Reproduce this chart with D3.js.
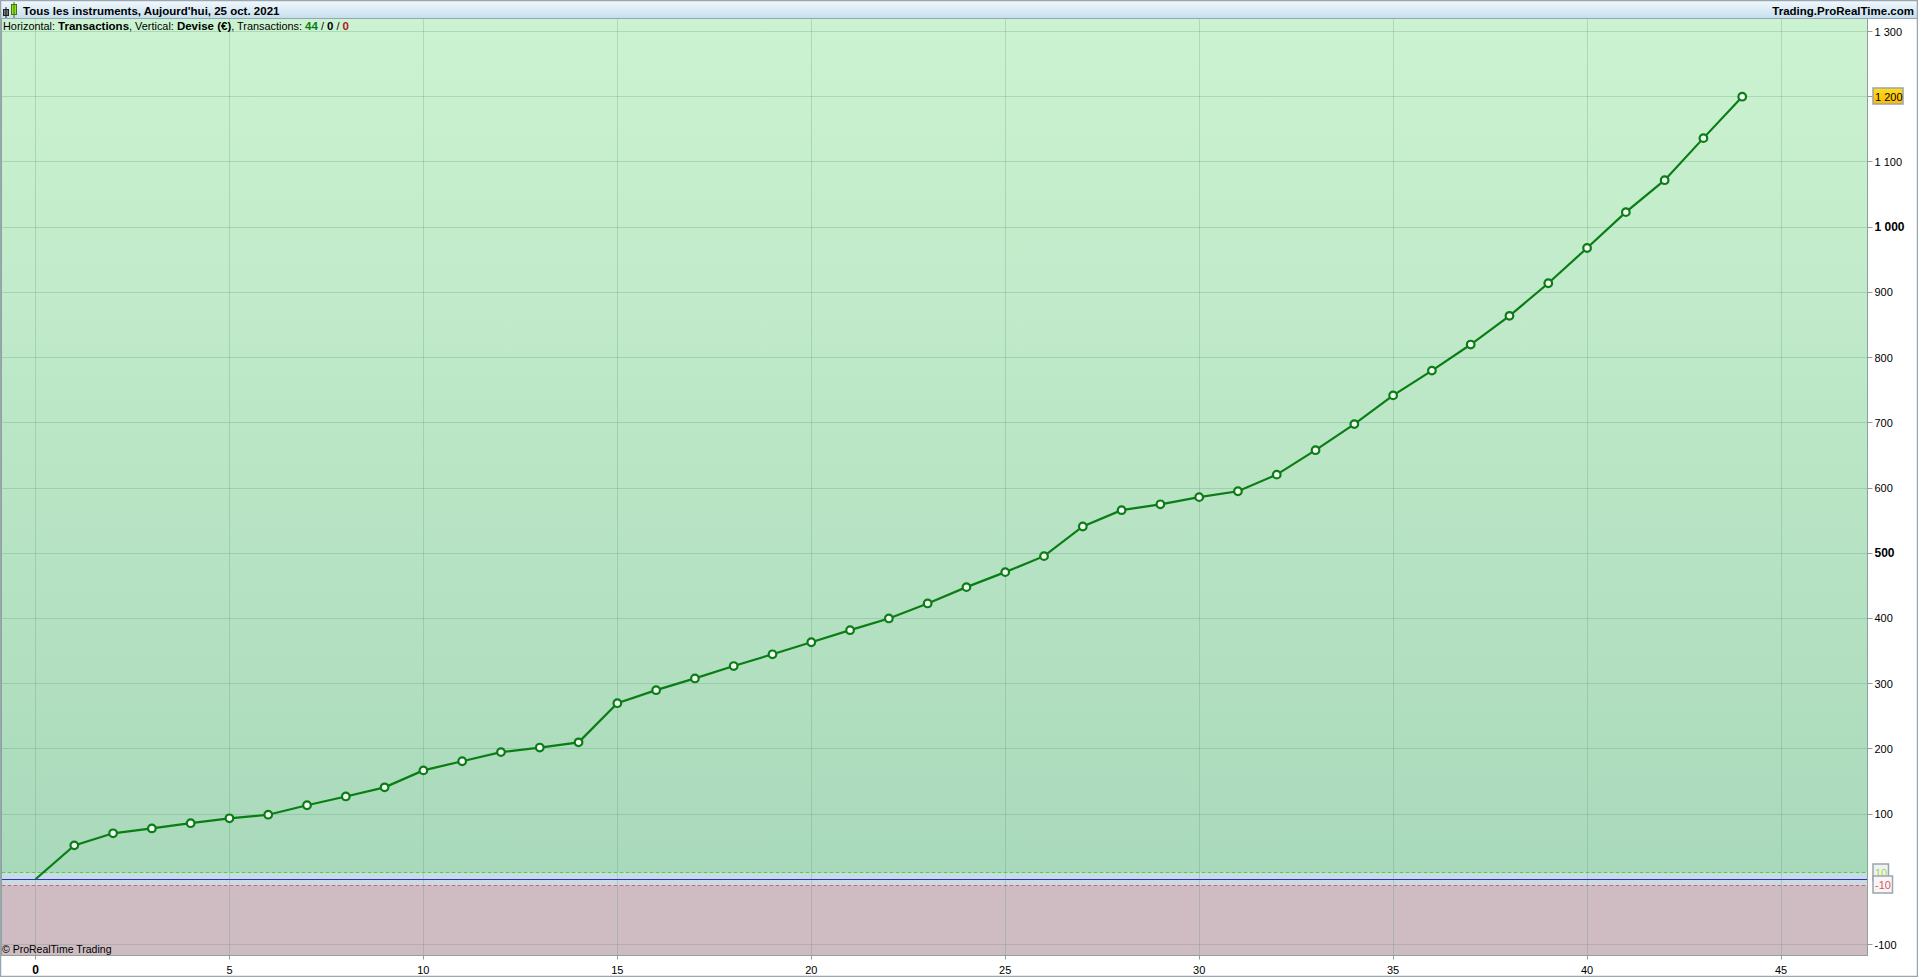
<!DOCTYPE html>
<html>
<head>
<meta charset="utf-8">
<script src="https://cdn.jsdelivr.net/npm/d3@7"></script>
<style>
  html, body { margin: 0; padding: 0; background: #fff; overflow: hidden; }
  text { font-family: "Liberation Sans", Arial, sans-serif; font-size: 11px; fill: #000; }
</style>
</head>
<body>
<div id="chart"></div>
<script>
const equity = [0, 52, 70.5, 78, 86, 93.5, 99, 113.5, 127, 141, 167, 181, 195, 202, 210,
  270, 290, 308, 327, 345, 363.5, 382, 400, 423, 448, 471, 495.5, 541, 566, 575, 586,
  595, 620.5, 658, 698, 742, 780, 820, 864, 914, 968, 1023, 1072, 1136.5, 1200];
const xTicks = [0, 5, 10, 15, 20, 25, 30, 35, 40, 45];
const yTicks = [-100, 100, 200, 300, 400, 500, 600, 700, 800, 900, 1000, 1100, 1200, 1300];
const boldTicks = [500, 1000];
const zeroBand = [-10, 10];
const lastValue = 1200;

const W = 1918, H = 977;
const plot = { left: 1.5, right: 1867.5, top: 18.5, bottom: 955.5 };

const x = d3.scaleLinear().domain([0, 45]).range([35.5, 1781]);
const y = d3.scaleLinear().domain([-100, 1300]).range([944.5, 31.5]);
const fmt = v => String(v).replace(/\B(?=(\d{3})+$)/g, " ");
const snap = v => Math.floor(v) + 0.5;

const svg = d3.select("#chart").append("svg")
  .attr("width", W).attr("height", H).style("display", "block");
const defs = svg.append("defs");

const bg = defs.append("linearGradient").attr("id", "bg")
  .attr("x1", 0).attr("y1", 0).attr("x2", 0).attr("y2", 1);
bg.append("stop").attr("offset", "0%").attr("stop-color", "#ccf3d1");
bg.append("stop").attr("offset", "100%").attr("stop-color", "#a9d9bb");

const head = defs.append("linearGradient").attr("id", "head")
  .attr("x1", 0).attr("y1", 0).attr("x2", 0).attr("y2", 1);
head.append("stop").attr("offset", "0%").attr("stop-color", "#f3f9fd");
head.append("stop").attr("offset", "100%").attr("stop-color", "#c4deee");

const gold = defs.append("linearGradient").attr("id", "gold")
  .attr("x1", 0).attr("y1", 0).attr("x2", 0).attr("y2", 1);
gold.append("stop").attr("offset", "0%").attr("stop-color", "#ffdc1e");
gold.append("stop").attr("offset", "100%").attr("stop-color", "#fdbb00");

// Plot background: green above +10, blue band, red below -10
svg.append("rect").attr("x", plot.left).attr("y", plot.top)
  .attr("width", plot.right - plot.left).attr("height", y(zeroBand[1]) - plot.top)
  .attr("fill", "url(#bg)");
svg.append("rect").attr("x", plot.left).attr("y", y(zeroBand[1]))
  .attr("width", plot.right - plot.left).attr("height", y(zeroBand[0]) - y(zeroBand[1]))
  .attr("fill", "#c9dbe4");
svg.append("rect").attr("x", plot.left).attr("y", y(zeroBand[0]))
  .attr("width", plot.right - plot.left).attr("height", plot.bottom - y(zeroBand[0]))
  .attr("fill", "#cfbbc2");

// Grid
const grid = svg.append("g").attr("stroke", "#4f8f68").attr("stroke-opacity", 0.25).attr("stroke-width", 1);
grid.selectAll(".gx").data(xTicks).enter().append("line")
  .attr("x1", d => snap(x(d))).attr("x2", d => snap(x(d)))
  .attr("y1", plot.top).attr("y2", plot.bottom);
grid.selectAll(".gy").data(yTicks).enter().append("line")
  .attr("x1", plot.left).attr("x2", plot.right)
  .attr("y1", d => snap(y(d))).attr("y2", d => snap(y(d)));

// Reference lines at 0 and +/-10
svg.append("line").attr("x1", plot.left).attr("x2", plot.right)
  .attr("y1", snap(y(0))).attr("y2", snap(y(0)))
  .attr("stroke", "#2a2fc0").attr("stroke-width", 1);
svg.append("line").attr("x1", plot.left).attr("x2", plot.right)
  .attr("y1", snap(y(10))).attr("y2", snap(y(10)))
  .attr("stroke", "#4fd24f").attr("stroke-dasharray", "4,2");
svg.append("line").attr("x1", plot.left).attr("x2", plot.right)
  .attr("y1", snap(y(-10))).attr("y2", snap(y(-10)))
  .attr("stroke", "#d9626a").attr("stroke-dasharray", "4,2");

// Equity line and markers
svg.append("path").datum(equity)
  .attr("fill", "none").attr("stroke", "#0a7d14").attr("stroke-width", 2.2)
  .attr("d", d3.line().x((d, i) => x(i)).y(d => y(d)));
svg.selectAll(".pt").data(equity.slice(1)).enter().append("circle")
  .attr("cx", (d, i) => x(i + 1)).attr("cy", d => y(d)).attr("r", 3.8)
  .attr("fill", "#f4f8f5").attr("stroke", "#0a7d14").attr("stroke-width", 2.2);

// Plot frame
svg.append("rect").attr("x", plot.left).attr("y", plot.top)
  .attr("width", plot.right - plot.left).attr("height", plot.bottom - plot.top)
  .attr("fill", "none").attr("stroke", "#8ca39a");

// Y axis labels
const yAxis = svg.append("g");
yAxis.selectAll("line").data(yTicks).enter().append("line")
  .attr("x1", plot.right).attr("x2", plot.right + 5)
  .attr("y1", d => snap(y(d))).attr("y2", d => snap(y(d)))
  .attr("stroke", "#8f9ca3");
yAxis.selectAll("text").data(yTicks.filter(d => d !== lastValue)).enter().append("text")
  .attr("x", 1874.5).attr("y", d => y(d) + 4)
  .style("font-weight", d => boldTicks.includes(d) ? "bold" : "normal")
  .style("font-size", d => boldTicks.includes(d) ? "12px" : "11px")
  .text(fmt);

// X axis labels
const xAxis = svg.append("g");
xAxis.selectAll("line").data(xTicks).enter().append("line")
  .attr("x1", d => snap(x(d))).attr("x2", d => snap(x(d)))
  .attr("y1", plot.bottom).attr("y2", plot.bottom + 4)
  .attr("stroke", "#8f9ca3");
xAxis.selectAll("text").data(xTicks).enter().append("text")
  .attr("x", d => x(d)).attr("y", 973.5).attr("text-anchor", "middle")
  .style("font-weight", d => d === 0 ? "bold" : "normal")
  .style("font-size", d => d === 0 ? "12px" : "11px")
  .text(d => d);

// Value tags on the right scale
function tag(label, width, height, fill, color, value, up) {
  const top = Math.round(y(value) - up);
  svg.append("rect").attr("x", 1873).attr("y", top)
    .attr("width", width).attr("height", height)
    .attr("fill", fill).attr("stroke", "#9aa5ad").attr("stroke-width", 1.5);
  svg.append("text").attr("x", 1875).attr("y", top + 12.5)
    .style("fill", color).text(label);
}
tag(fmt(lastValue), 30, 16, "url(#gold)", "#000", lastValue, 9);
tag("10", 15.5, 16, "#eef3f2", "#a3d843", 10, 9);
tag("-10", 19.5, 17, "#f7f5f5", "#e0555f", -10, 9.5);

// Title bar
svg.append("rect").attr("x", 0.5).attr("y", 0.5).attr("width", W - 1).attr("height", 18)
  .attr("fill", "url(#head)").attr("stroke", "#97a6b0");
// Candle icon
svg.append("rect").attr("x", 3.5).attr("y", 9.5).attr("width", 5).attr("height", 6).attr("fill", "#777").attr("stroke", "#222");
svg.append("line").attr("x1", 6).attr("x2", 6).attr("y1", 7).attr("y2", 18).attr("stroke", "#222");
svg.append("rect").attr("x", 11.5).attr("y", 4.5).attr("width", 5).attr("height", 10).attr("fill", "#9be020").attr("stroke", "#3c7a10");
svg.append("line").attr("x1", 14).attr("x2", 14).attr("y1", 2).attr("y2", 18).attr("stroke", "#3c7a10");
svg.append("text").attr("x", 23).attr("y", 14.5).style("font-weight", "bold").style("font-size", "11.5px")
  .text("Tous les instruments, Aujourd'hui, 25 oct. 2021");
svg.append("text").attr("x", 1914).attr("y", 14.5).attr("text-anchor", "end").style("font-weight", "bold").style("font-size", "11.5px")
  .text("Trading.ProRealTime.com");

// Info line
const info = svg.append("text").attr("x", 3).attr("y", 30).style("font-size", "10.9px");
[["Horizontal: "], ["Transactions", "bold"], [", Vertical: "], ["Devise (€)", "bold"],
 [", Transactions: "], ["44", "bold", "#0a7d14"], [" / "], ["0", "bold"], [" / "], ["0", "bold", "#b01818"]]
  .forEach(([t, w, c]) => {
    const s = info.append("tspan").text(t);
    if (w) s.style("font-weight", w).style("font-size", "11.5px");
    if (c) s.style("fill", c);
  });

svg.append("text").attr("x", 2).attr("y", 953).style("font-size", "10.5px").text("© ProRealTime Trading");

// Outer window border
svg.append("rect").attr("x", 0.5).attr("y", 0.5).attr("width", W - 1).attr("height", H - 1)
  .attr("fill", "none").attr("stroke", "#97a6b0").attr("stroke-width", 1.5);
</script>
</body>
</html>
